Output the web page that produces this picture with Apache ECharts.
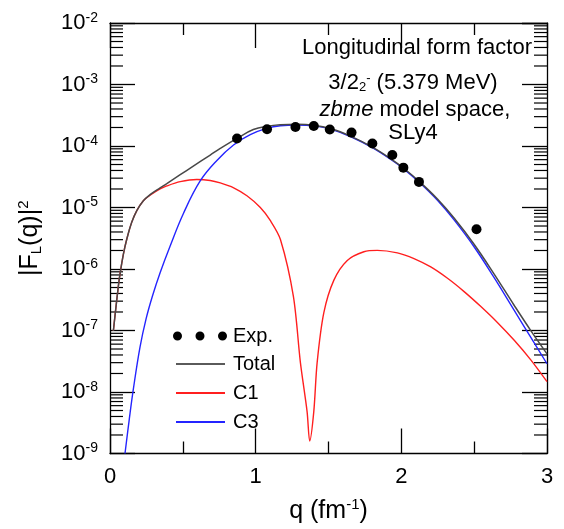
<!DOCTYPE html>
<html><head><meta charset="utf-8">
<script src="https://cdn.jsdelivr.net/npm/echarts@6/dist/echarts.min.js"></script>
<style>html,body{margin:0;padding:0;background:#fff}#c{width:564px;height:529px}</style>
</head><body><div id="c"></div>
<script>
// ---- data ----
const xTickValues = [0, 1, 2, 3];
const qExp = [0.872, 1.078, 1.273, 1.399, 1.509, 1.658, 1.801, 1.938, 2.014, 2.121, 2.516];
const fExp = [1.32e-4, 1.87e-4, 2.04e-4, 2.12e-4, 1.85e-4, 1.65e-4, 1.10e-4, 7.14e-5, 4.45e-5, 2.61e-5, 4.42e-6];

const qTotal = [0.023, 0.034, 0.057, 0.069, 0.092, 0.115, 0.149, 0.184, 0.229, 0.275, 0.344, 0.390, 0.482, 0.564, 0.688, 0.757, 0.872, 0.984, 1.080, 1.170, 1.285, 1.397, 1.514, 1.658, 1.801, 1.938, 2.014, 2.121, 2.248, 2.362, 2.498, 2.635, 2.773, 2.890, 3.000];
const fTotal = [9.8e-8, 1.71e-7, 5.18e-7, 8.4e-7, 1.75e-6, 3.05e-6, 5.73e-6, 8.9e-6, 1.29e-5, 1.62e-5, 2.09e-5, 2.45e-5, 3.41e-5, 4.57e-5, 7.13e-5, 9.12e-5, 1.33e-4, 1.85e-4, 2.10e-4, 2.22e-4, 2.26e-4, 2.18e-4, 1.92e-4, 1.42e-4, 9.57e-5, 5.96e-5, 4.39e-5, 2.68e-5, 1.37e-5, 6.73e-6, 2.55e-6, 8.43e-7, 2.60e-7, 9.86e-8, 4.17e-8];

const qC1 = [0.023, 0.034, 0.057, 0.069, 0.092, 0.115, 0.149, 0.184, 0.229, 0.275, 0.344, 0.390, 0.482, 0.596, 0.688, 0.757, 0.849, 0.940, 1.032, 1.100, 1.170, 1.259, 1.307, 1.353, 1.371, 1.399, 1.422, 1.468, 1.537, 1.629, 1.743, 1.835, 1.973, 2.087, 2.202, 2.317, 2.431, 2.546, 2.661, 2.775, 2.890, 3.000];
const fC1 = [9.8e-8, 1.71e-7, 5.18e-7, 8.4e-7, 1.75e-6, 3.05e-6, 5.73e-6, 8.9e-6, 1.29e-5, 1.58e-5, 2.0e-5, 2.24e-5, 2.63e-5, 2.85e-5, 2.75e-5, 2.51e-5, 2.09e-5, 1.55e-5, 1.0e-5, 6.17e-6, 3.02e-6, 3.58e-7, 3.04e-8, 4.8e-9, 1.6e-9, 4.8e-9, 3.0e-8, 1.95e-7, 6.6e-7, 1.38e-6, 1.91e-6, 2.01e-6, 1.83e-6, 1.48e-6, 1.08e-6, 7.06e-7, 4.29e-7, 2.45e-7, 1.34e-7, 6.93e-8, 3.30e-8, 1.47e-8];

const qC3 = [0.103, 0.131, 0.160, 0.206, 0.248, 0.292, 0.344, 0.413, 0.504, 0.619, 0.734, 0.848, 0.963, 1.080, 1.170, 1.285, 1.397, 1.514, 1.658, 1.801, 1.938, 2.014, 2.121, 2.248, 2.362, 2.498, 2.635, 2.773, 2.890, 3.000];
const fC3 = [1.0e-9, 3.4e-9, 1.1e-8, 5.37e-8, 1.56e-7, 3.68e-7, 8.71e-7, 2.37e-6, 8.0e-6, 2.70e-5, 5.83e-5, 1.04e-4, 1.53e-4, 1.95e-4, 2.14e-4, 2.20e-4, 2.14e-4, 1.88e-4, 1.40e-4, 9.38e-5, 5.82e-5, 4.29e-5, 2.60e-5, 1.31e-5, 6.28e-6, 2.32e-6, 7.35e-7, 2.16e-7, 7.66e-8, 2.88e-8];

const seriesNames = ['Exp.', 'Total', 'C1', 'C3'];
const annotationLines = ['Longitudinal form factor', '3/2', '2', '-', ' (5.379 MeV)', 'zbme', ' model space,', 'SLy4'];

// ---- chart ----
const FONT = '"Liberation Sans", Arial, sans-serif';
const zip = (a, b) => a.map((v, i) => [v, b[i]]);
const minorVals = [];
for (let e = -9; e < -2; e++) for (let k = 2; k <= 9; k++) minorVals.push([0, k * Math.pow(10, e)]);

const axisLineStyle = {color: '#000', width: 1.3};
const yLabelFmt = v => {
  const e = Math.round(Math.log10(v));
  return '{b|10}{s|' + e + '}';
};
const yRich = {
  b: {fontSize: 22, fontFamily: FONT, color: '#000', lineHeight: 24},
  s: {fontSize: 14, fontFamily: FONT, color: '#000', verticalAlign: 'top', lineHeight: 14}
};

function xAx(pos, labels) {
  return {
    type: 'value', min: 0, max: 3, interval: 1, position: pos,
    axisLine: {show: true, onZero: false, lineStyle: axisLineStyle},
    axisTick: {show: true, inside: true, length: 25, lineStyle: axisLineStyle},
    minorTick: {show: true, splitNumber: 2, length: 12, lineStyle: axisLineStyle},
    splitLine: {show: false}, minorSplitLine: {show: false},
    axisLabel: {show: labels, fontSize: 22, fontFamily: FONT, color: '#000', margin: 12},
    name: labels ? '{a|q (fm}{s|-1}{a|)}' : '',
    nameLocation: 'middle', nameGap: 44,
    nameTextStyle: {rich: {
      a: {fontSize: 25, fontFamily: FONT, color: '#000', lineHeight: 28},
      s: {fontSize: 15, fontFamily: FONT, color: '#000', verticalAlign: 'top', lineHeight: 15}
    }}
  };
}
function yAx(pos, labels) {
  return {
    type: 'log', logBase: 10, min: 1e-9, max: 1e-2, position: pos,
    axisLine: {show: true, onZero: false, lineStyle: axisLineStyle},
    axisTick: {show: true, inside: true, length: 25, lineStyle: axisLineStyle},
    minorTick: {show: false},
    splitLine: {show: false},
    axisLabel: {show: labels, margin: 12, formatter: yLabelFmt, rich: yRich, fontFamily: FONT},
    name: labels ? '{a||F}{l|L}{a|(q)|}{s|2}' : '',
    nameLocation: 'middle', nameRotate: 90, nameGap: 66,
    nameTextStyle: {rich: {
      a: {fontSize: 25, fontFamily: FONT, color: '#000', lineHeight: 28},
      l: {fontSize: 15, fontFamily: FONT, color: '#000', verticalAlign: 'bottom', lineHeight: 15},
      s: {fontSize: 15, fontFamily: FONT, color: '#000', verticalAlign: 'top', lineHeight: 15}
    }}
  };
}

const textRich = {
  a: {fontSize: 22, fontFamily: FONT, color: '#000'},
  i: {fontSize: 22, fontFamily: FONT, color: '#000', fontStyle: 'italic'},
  sub: {fontSize: 13, fontFamily: FONT, color: '#000', verticalAlign: 'bottom', lineHeight: 13},
  sup: {fontSize: 13, fontFamily: FONT, color: '#000', verticalAlign: 'top', lineHeight: 13}
};
const A = annotationLines;

const option = {
  backgroundColor: '#fff',
  animation: false,
  grid: {left: 110, right: 17, top: 23, bottom: 70},
  xAxis: [xAx('bottom', true), xAx('top', false)],
  yAxis: [yAx('left', true), yAx('right', false)],
  legend: [
    {data: [{name: seriesNames[0], icon: 'path://M0,4.5a4.5,4.5 0 1,0 9,0a4.5,4.5 0 1,0 -9,0ZM22.5,4.5a4.5,4.5 0 1,0 9,0a4.5,4.5 0 1,0 -9,0ZM45,4.5a4.5,4.5 0 1,0 9,0a4.5,4.5 0 1,0 -9,0Z'}],
     left: 168, top: 321, itemWidth: 54, itemHeight: 9, selectedMode: false,
     textStyle: {fontSize: 20, fontFamily: FONT, color: '#000', padding: [0, 0, 0, 1]}},
    {data: seriesNames.slice(1).map(n => ({name: n, icon: 'rect'})), orient: 'vertical',
     left: 171, top: 349, itemWidth: 49, itemHeight: 2, itemGap: 9, selectedMode: false,
     textStyle: {fontSize: 20, fontFamily: FONT, color: '#000', padding: [0, 0, 0, 3]}}
  ],
  graphic: [
    {type: 'text', x: 417, y: 48, style: {text: A[0], font: '22px ' + FONT, fill: '#000', align: 'center', verticalAlign: 'middle'}},
    {type: 'text', x: 413, y: 83, style: {text: '{a|' + A[1] + '}{sub|' + A[2] + '}{sup|' + A[3] + '}{a|' + A[4] + '}', rich: textRich, align: 'center', verticalAlign: 'middle'}},
    {type: 'text', x: 415, y: 110, style: {text: '{i|' + A[5] + '}{a|' + A[6] + '}', rich: textRich, align: 'center', verticalAlign: 'middle'}},
    {type: 'text', x: 413, y: 133, style: {text: A[7], font: '22px ' + FONT, fill: '#000', align: 'center', verticalAlign: 'middle'}}
  ],
  series: [
    {type: 'custom', silent: true, xAxisIndex: 0, yAxisIndex: 0, data: minorVals, z: 1,
     renderItem: (params, api) => {
       const v = api.value(1);
       const pL = api.coord([0, v]);
       const pR = api.coord([3, v]);
       return {type: 'group', children: [
         {type: 'line', shape: {x1: pL[0], y1: pL[1], x2: pL[0] + 13, y2: pL[1]}, style: {stroke: '#000', lineWidth: 1.2}},
         {type: 'line', shape: {x1: pR[0] - 13, y1: pR[1], x2: pR[0], y2: pR[1]}, style: {stroke: '#000', lineWidth: 1.2}}
       ]};
     }},
    {name: seriesNames[1], type: 'line', data: zip(qTotal, fTotal), smooth: 0.4, symbol: 'none',
     lineStyle: {color: '#484848', width: 1.5}, itemStyle: {color: '#5a5a5a'}, z: 3},
    {name: seriesNames[2], type: 'line', data: zip(qC1, fC1), smooth: 0.3, symbol: 'none',
     lineStyle: {color: '#ff1f1f', width: 1.4, join: 'miter'}, itemStyle: {color: '#ff1f1f'}, z: 2},
    {name: seriesNames[3], type: 'line', data: zip(qC3, fC3), smooth: 0.4, symbol: 'none',
     lineStyle: {color: '#2424ff', width: 1.4}, itemStyle: {color: '#2424ff'}, z: 2},
    {name: seriesNames[0], type: 'scatter', data: zip(qExp, fExp), symbol: 'circle', symbolSize: 10,
     itemStyle: {color: '#000', opacity: 1}, z: 5}
  ]
};
const chart = echarts.init(document.getElementById('c'), null, {renderer: 'canvas'});
chart.setOption(option);
</script></body></html>
